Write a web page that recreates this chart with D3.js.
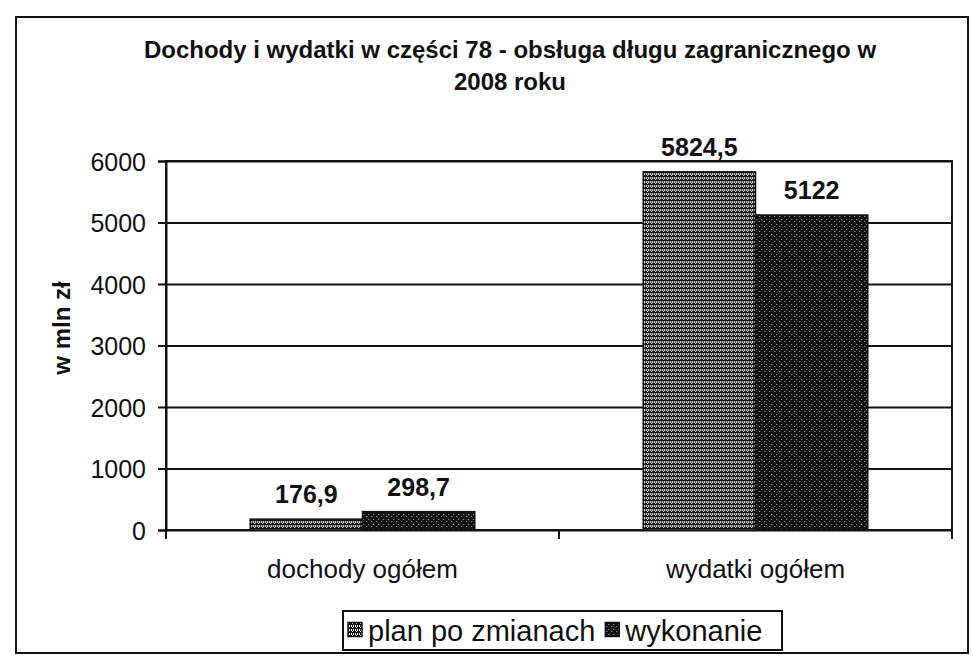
<!DOCTYPE html>
<html>
<head>
<meta charset="utf-8">
<script src="https://cdn.jsdelivr.net/npm/d3@7"></script>
<style>
  body { margin: 0; background: #fff; }
  text { font-family: "Liberation Sans", Arial, sans-serif; fill: #111; }
</style>
</head>
<body>
<svg id="chart"></svg>
<script>
// data
var categories = ["dochody ogółem", "wydatki ogółem"];
var seriesNames = ["plan po zmianach", "wykonanie"];
var planValues = [176.9, 5824.5];
var wykonanieValues = [298.7, 5122];
var yTicks = [0, 1000, 2000, 3000, 4000, 5000, 6000];
var titleLines = ["Dochody i wydatki w części 78 - obsługa długu zagranicznego w", "2008 roku"];
var yTitle = "w mln zł";

// svg params
var svgWidth = 973, svgHeight = 663;
var plotLeft = 166, plotRight = 952, plotTop = 161, plotBottom = 530;

var svg = d3.select("#chart")
    .attr("width", svgWidth)
    .attr("height", svgHeight);

var pl = d3.formatLocale({decimal: ",", thousands: "", grouping: [3], currency: ["", ""]});
var fmt = pl.format(".1~f");

// fill patterns, like the old excel ones
var defs = svg.append("defs");

var pPlan = defs.append("pattern")
    .attr("id", "patPlan")
    .attr("width", 4).attr("height", 4)
    .attr("patternUnits", "userSpaceOnUse");
pPlan.append("rect").attr("width", 4).attr("height", 4).attr("fill", "#fff");
[[0,0,3,1],[2,1,1,2],[0,1,1,2],[3,3,1,1],[1,3,2,1],[3,0,1,1]].forEach(function(r) {
  pPlan.append("rect").attr("x", r[0]).attr("y", r[1]).attr("width", r[2]).attr("height", r[3]).attr("fill", "#111");
});

var pWyk = defs.append("pattern")
    .attr("id", "patWyk")
    .attr("width", 5).attr("height", 5)
    .attr("patternUnits", "userSpaceOnUse");
pWyk.append("rect").attr("width", 5).attr("height", 5).attr("fill", "#111");
[[1,1],[3,4]].forEach(function(r) {
  pWyk.append("rect").attr("x", r[0]).attr("y", r[1]).attr("width", 1).attr("height", 1).attr("fill", "#aaa");
});

var fills = ["url(#patPlan)", "url(#patWyk)"];

// outer frame
svg.append("rect")
    .attr("x", 16).attr("y", 17)
    .attr("width", 952).attr("height", 636)
    .attr("fill", "none")
    .attr("stroke", "#111")
    .attr("stroke-width", 2);

// title
svg.append("text")
    .attr("text-anchor", "middle")
    .attr("font-size", 24)
    .attr("font-weight", "bold")
    .selectAll("tspan")
    .data(titleLines)
    .enter()
    .append("tspan")
    .attr("x", 510)
    .attr("y", function(d, i) { return 58 + i * 32; })
    .text(function(d) { return d; });

// scales
var y = d3.scaleLinear()
    .domain([0, 6000])
    .range([plotBottom, plotTop]);

var x0 = d3.scaleBand()
    .domain(categories)
    .range([plotLeft, plotRight])
    .padding(0);

// gap width 150% like excel
var groupW = x0.bandwidth() * 2 / 3.5;
var x1 = d3.scaleBand()
    .domain(seriesNames)
    .range([0, groupW]);

// gridlines
svg.append("g")
    .attr("transform", "translate(" + plotLeft + ",0)")
    .call(d3.axisLeft(y).tickValues(yTicks).tickSize(-(plotRight - plotLeft)).tickFormat(""))
    .call(function(g) { g.select(".domain").remove(); })
    .selectAll("line")
    .attr("stroke", "#111")
    .attr("stroke-width", 2);

// plot area border
svg.append("rect")
    .attr("x", plotLeft).attr("y", plotTop)
    .attr("width", plotRight - plotLeft).attr("height", plotBottom - plotTop)
    .attr("fill", "none")
    .attr("stroke", "#111")
    .attr("stroke-width", 2);

// bars
var rows = categories.map(function(c, i) {
  return {cat: c, vals: [planValues[i], wykonanieValues[i]]};
});

var groups = svg.append("g")
    .selectAll("g")
    .data(rows)
    .enter()
    .append("g")
    .attr("transform", function(d) {
      return "translate(" + (x0(d.cat) + (x0.bandwidth() - groupW) / 2) + ",0)";
    });

groups.selectAll("rect")
    .data(function(d) { return d.vals; })
    .enter()
    .append("rect")
    .attr("x", function(d, i) { return x1(seriesNames[i]); })
    .attr("y", function(d) { return y(d); })
    .attr("width", x1.bandwidth())
    .attr("height", function(d) { return y(0) - y(d); })
    .attr("fill", function(d, i) { return fills[i]; })
    .attr("stroke", "#111")
    .attr("stroke-width", 1.5);

groups.selectAll("text")
    .data(function(d) { return d.vals; })
    .enter()
    .append("text")
    .attr("x", function(d, i) { return x1(seriesNames[i]) + x1.bandwidth() / 2; })
    .attr("y", function(d) { return y(d) - 16; })
    .attr("text-anchor", "middle")
    .attr("font-size", 25)
    .attr("font-weight", "bold")
    .text(function(d) { return fmt(d); });

// y axis
var yAxis = svg.append("g")
    .attr("transform", "translate(" + plotLeft + ",0)")
    .call(d3.axisLeft(y).tickValues(yTicks).tickSize(8).tickPadding(12).tickFormat(d3.format("d")));
yAxis.select(".domain").attr("stroke", "#111").attr("stroke-width", 2);
yAxis.selectAll("line").attr("stroke", "#111").attr("stroke-width", 2);
yAxis.selectAll("text")
    .attr("font-size", 25)
    .attr("font-family", "Liberation Sans, Arial, sans-serif")
    .attr("fill", "#111")
    .attr("dy", "0.36em");

// x axis, ticks between categories
var xAxis = svg.append("g")
    .attr("transform", "translate(0," + plotBottom + ")")
    .call(d3.axisBottom(x0).tickSize(0).tickPadding(30));
xAxis.select(".domain").remove();
xAxis.selectAll("text")
    .attr("font-size", 26)
    .attr("font-family", "Liberation Sans, Arial, sans-serif")
    .attr("fill", "#111");

svg.append("g")
    .selectAll("line")
    .data([plotLeft, x0(categories[1]), plotRight])
    .enter()
    .append("line")
    .attr("x1", function(d) { return d; })
    .attr("x2", function(d) { return d; })
    .attr("y1", plotBottom)
    .attr("y2", plotBottom + 9)
    .attr("stroke", "#111")
    .attr("stroke-width", 2);

// y title
svg.append("text")
    .attr("transform", "translate(70,328) rotate(-90)")
    .attr("text-anchor", "middle")
    .attr("font-size", 24)
    .attr("font-weight", "bold")
    .text(yTitle);

// legend
var legX = 343, legY = 611, legW = 439, legH = 39;
var legend = svg.append("g");
legend.append("rect")
    .attr("x", legX).attr("y", legY)
    .attr("width", legW).attr("height", legH)
    .attr("fill", "#fff")
    .attr("stroke", "#111")
    .attr("stroke-width", 2);

var legItems = legend.selectAll("g")
    .data(seriesNames)
    .enter()
    .append("g");

legItems.append("rect")
    .attr("width", 14).attr("height", 14)
    .attr("y", legY + legH / 2 - 8)
    .attr("fill", function(d, i) { return fills[i]; })
    .attr("stroke", "#111")
    .attr("stroke-width", 1.5);

legItems.append("text")
    .attr("x", 20)
    .attr("y", legY + legH / 2 + 10)
    .attr("font-size", 29)
    .text(function(d) { return d; });

// lay out items in a row
var cursor = legX + 5;
legItems.each(function() {
  var g = d3.select(this);
  g.attr("transform", "translate(" + cursor + ",0)");
  cursor += 20 + g.select("text").node().getComputedTextLength() + 10;
});
</script>
</body>
</html>
